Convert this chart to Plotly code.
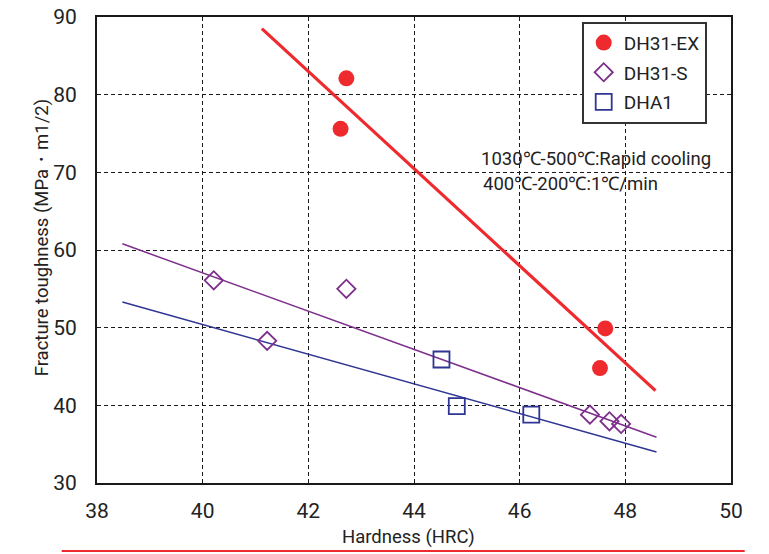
import plotly.graph_objects as go

# ---- data ----
ex_x = [42.72, 42.61, 47.62, 47.52]
ex_y = [82.1, 75.6, 49.9, 44.8]
s_x = [40.21, 41.22, 42.72, 47.33, 47.70, 47.92]
s_y = [56.1, 48.3, 55.0, 38.8, 37.95, 37.6]
a_x = [44.52, 44.81, 46.22]
a_y = [45.9, 39.9, 38.8]

# trend line end points
ex_fit_x = [41.12, 48.57]
ex_fit_y = [88.5, 41.9]
s_fit_x = [38.48, 48.59]
s_fit_y = [60.8, 35.9]
a_fit_x = [38.48, 48.59]
a_fit_y = [53.3, 34.0]

x_ticks = [38, 40, 42, 44, 46, 48, 50]
y_ticks = [30, 40, 50, 60, 70, 80, 90]

RED = "#ee2a2e"
PURPLE = "#7d2f8c"
BLUE = "#2e3592"
FONT = "Liberation Sans Narrow, Arial Narrow, Roboto, sans-serif"

# page offset (html body margin) compensation
OFF = 8
W, H = 769 - OFF, 554 - OFF
L, T = 97.3 - OFF, 17.3 - OFF
R_EDGE, B_EDGE = 731.3 - OFF, 483.5 - OFF
PW, PH = R_EDGE - L, B_EDGE - T


def px(xp):
    return (xp - OFF - L) / PW


def py(yp):
    return (B_EDGE - (yp - OFF)) / PH


fig = go.Figure()

# trend lines
fig.add_trace(go.Scatter(x=ex_fit_x, y=ex_fit_y, mode="lines",
                         line=dict(color=RED, width=3.2), showlegend=False))
fig.add_trace(go.Scatter(x=s_fit_x, y=s_fit_y, mode="lines",
                         line=dict(color=PURPLE, width=1.5), showlegend=False))
fig.add_trace(go.Scatter(x=a_fit_x, y=a_fit_y, mode="lines",
                         line=dict(color=BLUE, width=1.5), showlegend=False))

# markers
fig.add_trace(go.Scatter(x=ex_x, y=ex_y, mode="markers", name="DH31-EX",
                         legendgroup="a",
                         marker=dict(symbol="circle", size=16, color=RED,
                                     line=dict(width=0))))
fig.add_trace(go.Scatter(x=s_x, y=s_y, mode="markers", name="DH31-S",
                         legendgroup="b",
                         marker=dict(symbol="diamond-open", size=14, color=PURPLE,
                                     line=dict(width=1.8, color=PURPLE))))
fig.add_trace(go.Scatter(x=a_x, y=a_y, mode="markers", name="DHA1",
                         legendgroup="c",
                         marker=dict(symbol="square-open", size=16, color=BLUE,
                                     line=dict(width=1.8, color=BLUE))))

fig.add_annotation(x=px(479), y=py(159), xref="paper", yref="paper", xanchor="left",
                   yanchor="middle", showarrow=False,
                   text="1030℃-500℃:Rapid cooling",
                   font=dict(family=FONT, size=18.5, color="#222"))
fig.add_annotation(x=px(481), y=py(184), xref="paper", yref="paper", xanchor="left",
                   yanchor="middle", showarrow=False,
                   text="400℃-200℃:1℃/min",
                   font=dict(family=FONT, size=18.5, color="#222"))

# axis titles
fig.add_annotation(x=px(409), y=py(538), xref="paper", yref="paper",
                   xanchor="center", yanchor="middle", showarrow=False,
                   text="Hardness (HRC)",
                   font=dict(family=FONT, size=18.5, color="#222"))
fig.add_annotation(x=px(42), y=py(238), xref="paper", yref="paper",
                   xanchor="center", yanchor="middle", showarrow=False,
                   textangle=-90,
                   text="Fracture toughness (MPa・m1/2)",
                   font=dict(family=FONT, size=18.5, color="#222"))

# bottom red rule
fig.add_shape(type="line", xref="paper", yref="paper",
              x0=px(62), x1=px(745), y0=py(551.5), y1=py(551.5),
              line=dict(color=RED, width=2))

axis_common = dict(
    showline=True, mirror=True, linecolor="#1a1a1a", linewidth=2,
    showgrid=True, gridcolor="#1a1a1a", gridwidth=1.2, griddash="4px,3px",
    zeroline=False, ticks="", automargin=False, ticklabeloverflow="allow",
    tickfont=dict(family=FONT, size=21, color="#222"),
)

fig.update_xaxes(range=[38, 50], tickvals=x_ticks, ticklabelstandoff=8,
                 **axis_common)
fig.update_yaxes(range=[30, 90], tickvals=y_ticks, ticklabelstandoff=14,
                 **axis_common)

fig.update_layout(
    width=W, height=H,
    margin=dict(l=L, r=W - R_EDGE, t=T, b=H - B_EDGE, pad=0, autoexpand=False),
    paper_bgcolor="white", plot_bgcolor="white",
    legend=dict(x=px(582), y=py(22),
                xanchor="left", yanchor="top",
                bgcolor="white", bordercolor="#333", borderwidth=2,
                font=dict(family=FONT, size=19, color="#222"),
                tracegroupgap=2),
    showlegend=True,
)

fig.write_html("out.html")
